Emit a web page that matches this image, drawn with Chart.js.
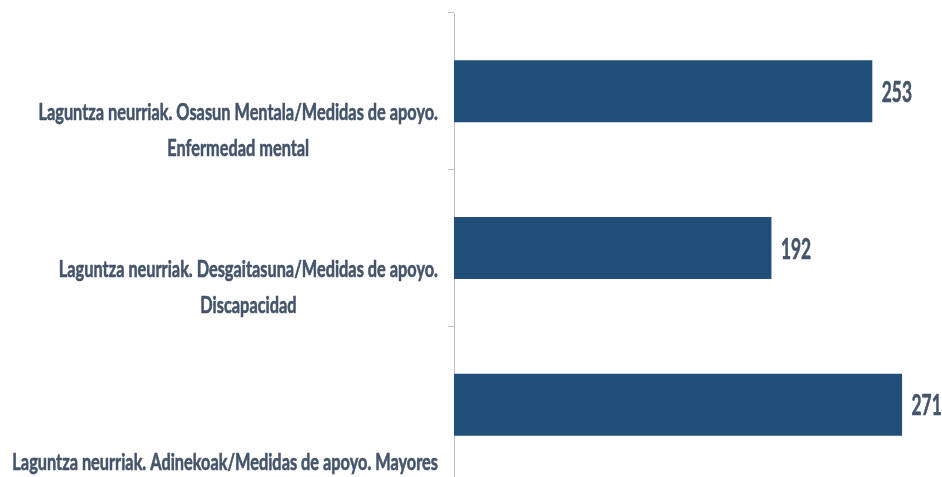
<!DOCTYPE html>
<html>
<head>
<meta charset="utf-8">
<script src="https://cdn.jsdelivr.net/npm/chart.js@4"></script>
<style>
html,body{margin:0;padding:0;background:#fff;overflow:hidden;width:942px;height:477px;}
canvas{display:block;}
</style>
</head>
<body>
<canvas id="c" width="950" height="483"></canvas>
<script>
const categories = [
  ["Laguntza neurriak. Osasun Mentala/Medidas de apoyo.", "Enfermedad mental"],
  ["Laguntza neurriak. Desgaitasuna/Medidas de apoyo.", "Discapacidad"],
  ["Laguntza neurriak. Adinekoak/Medidas de apoyo. Mayores"]
];
const values = [253, 192, 271];
const xMin = 0;
const xMax = 300;

const TEXT_COLOR = '#44546a';
const SX = 0.71; // horizontal compression of text

const labelPlugin = {
  id: 'labels',
  afterDraw(chart) {
    const ctx = chart.ctx;
    const yScale = chart.scales.y;
    const area = chart.chartArea;
    const meta = chart.getDatasetMeta(0);
    ctx.save();
    ctx.fillStyle = TEXT_COLOR;
    ctx.strokeStyle = TEXT_COLOR;
    ctx.lineWidth = 0.6;
    ctx.lineJoin = 'round';
    // category labels
    ctx.font = 'bold 23px Lato';
    ctx.textBaseline = 'alphabetic';
    ctx.textAlign = 'center';
    const right = area.left - 16;
    const maxW = right - 12;
    categories.forEach((lines, i) => {
      const cy = yScale.getPixelForValue(i);
      let w = 0;
      lines.forEach(l => { w = Math.max(w, ctx.measureText(l).width * SX); });
      const bw = Math.min(w, maxW);
      const f = bw / w;
      const cx = right - bw / 2;
      const lastBase = cy + 65;
      const lh = 36.5;
      lines.forEach((l, j) => {
        const y = lastBase - (lines.length - 1 - j) * lh;
        ctx.save();
        ctx.translate(cx, y);
        ctx.scale(SX * f, 1);
        ctx.fillText(l, 0, 0);
        ctx.strokeText(l, 0, 0);
        ctx.restore();
      });
    });
    // value labels
    ctx.font = 'bold 28px Lato';
    ctx.textAlign = 'left';
    meta.data.forEach((bar, i) => {
      ctx.save();
      ctx.translate(bar.x + 9.5, bar.y + 10.5);
      ctx.scale(0.62, 1);
      ctx.fillText(String(values[i]), 0, 0);
      ctx.strokeText(String(values[i]), 0, 0);
      ctx.restore();
    });
    ctx.restore();
  }
};

new Chart(document.getElementById('c'), {
  type: 'bar',
  data: {
    labels: categories,
    datasets: [{
      data: values,
      backgroundColor: '#1f4e79',
      borderWidth: 0,
      categoryPercentage: 1,
      barPercentage: 0.396
    }]
  },
  options: {
    indexAxis: 'y',
    responsive: false,
    animation: false,
    devicePixelRatio: 1,
    layout: { padding: { top: 13, bottom: 0, left: 0, right: 0 } },
    plugins: { legend: { display: false }, tooltip: { enabled: false } },
    scales: {
      x: { display: false, min: xMin, max: xMax },
      y: {
        afterFit(s) { s.width = 454; },
        ticks: { display: false },
        grid: { display: true, drawOnChartArea: false, drawTicks: true, tickLength: 6, color: '#bfbfbf', offset: true },
        border: { display: true, color: '#bfbfbf', width: 1 }
      }
    }
  },
  plugins: [labelPlugin]
});
</script>
</body>
</html>
